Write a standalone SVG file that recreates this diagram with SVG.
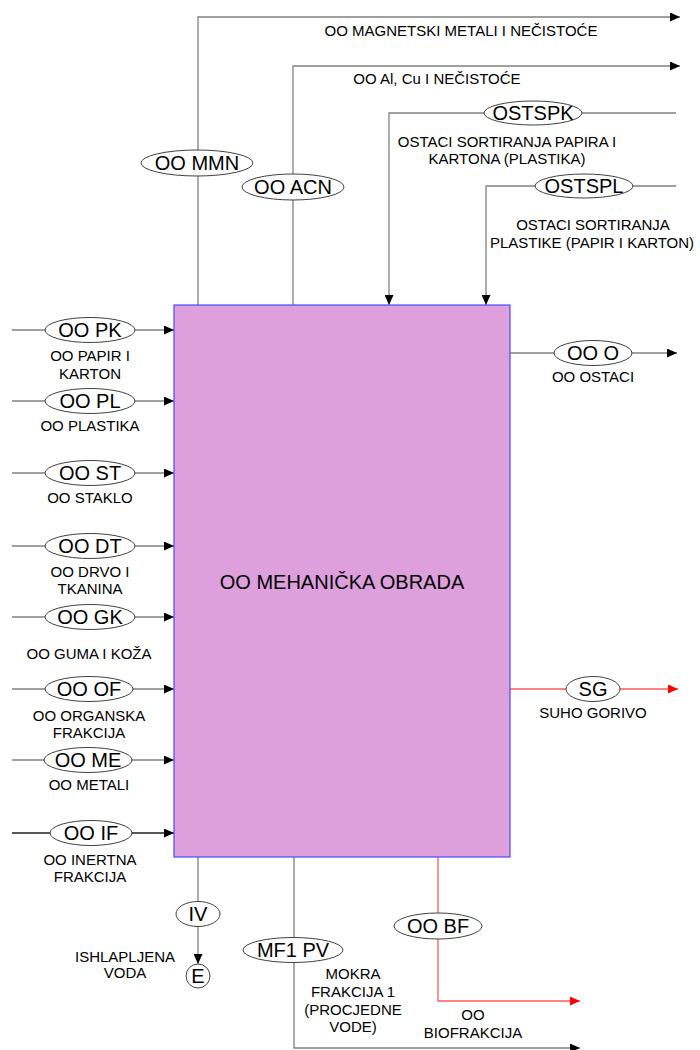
<svg xmlns="http://www.w3.org/2000/svg" width="700" height="1050" viewBox="0 0 700 1050">
<defs>
<marker id="ab" markerUnits="userSpaceOnUse" markerWidth="11" markerHeight="9" refX="10" refY="4.5" orient="auto"><path d="M0,0 L10,4.5 L0,9 z" fill="#000"/></marker>
<marker id="ar" markerUnits="userSpaceOnUse" markerWidth="11" markerHeight="9" refX="10" refY="4.5" orient="auto"><path d="M0,0 L10,4.5 L0,9 z" fill="#ff0000"/></marker>
</defs>
<style>
.c{fill:none;stroke:#808080;stroke-width:1.3}
.k{stroke:#202020}
.r{fill:none;stroke:#ff5a5a;stroke-width:1.3}
.e{fill:#fff;stroke:#404040;stroke-width:1}
.t{font-family:"Liberation Sans",Arial,sans-serif;font-size:20px;fill:#000;text-anchor:middle}
.l{font-family:"Liberation Sans",Arial,sans-serif;font-size:15px;fill:#000;text-anchor:middle}
</style>
<rect width="700" height="1050" fill="#fff"/>
<g id="connectors">
<path class="c" d="M198,305 V17 H680" marker-end="url(#ab)"/>
<path class="c" d="M293,305 V66 H680" marker-end="url(#ab)"/>
<path class="c" d="M676,113 H389 V305" marker-end="url(#ab)"/>
<path class="c" d="M676,186 H486 V305" marker-end="url(#ab)"/>
<path class="c" d="M12,330 H174" marker-end="url(#ab)"/>
<path class="c" d="M12,401 H174" marker-end="url(#ab)"/>
<path class="c" d="M12,473 H174" marker-end="url(#ab)"/>
<path class="c" d="M12,546 H174" marker-end="url(#ab)"/>
<path class="c" d="M12,617 H174" marker-end="url(#ab)"/>
<path class="c" d="M12,689 H174" marker-end="url(#ab)"/>
<path class="c" d="M12,760 H174" marker-end="url(#ab)"/>
<path class="c k" d="M12,833 H174" marker-end="url(#ab)"/>
<path class="c" d="M510,353 H677" marker-end="url(#ab)"/>
<path class="r" d="M510,689 H678" marker-end="url(#ar)"/>
<path class="c" d="M198,857 V964" marker-end="url(#ab)"/>
<path class="c" d="M294,857 V1048 H580" marker-end="url(#ab)"/>
<path class="r" d="M438,857 V1001 H580" marker-end="url(#ar)"/>
</g>
<g id="main">
<rect x="174" y="305" width="336" height="552" fill="#dda0dd" stroke="#4a4aff" stroke-width="1.2"/>
<text class="t" x="342" y="589">OO MEHANIČKA OBRADA</text>
</g>
<g id="n-mmn"><ellipse class="e" cx="197" cy="163" rx="56" ry="13"/><text class="t" x="197" y="170">OO MMN</text></g>
<g id="n-acn"><ellipse class="e" cx="293" cy="187" rx="51" ry="13"/><text class="t" x="293" y="194">OO ACN</text></g>
<g id="n-ostspk"><ellipse class="e" cx="533" cy="113" rx="49" ry="12"/><text class="t" x="533" y="120">OSTSPK</text></g>
<g id="n-ostspl"><ellipse class="e" cx="584" cy="186" rx="49" ry="12"/><text class="t" x="584" y="193">OSTSPL</text></g>
<g id="n-pk"><ellipse class="e" cx="90" cy="330" rx="45" ry="12.5"/><text class="t" x="90" y="337">OO PK</text></g>
<g id="n-pl"><ellipse class="e" cx="90" cy="401" rx="45" ry="12.5"/><text class="t" x="90" y="408">OO PL</text></g>
<g id="n-st"><ellipse class="e" cx="90" cy="473" rx="45" ry="12.5"/><text class="t" x="90" y="480">OO ST</text></g>
<g id="n-dt"><ellipse class="e" cx="90" cy="546" rx="45" ry="12.5"/><text class="t" x="90" y="553">OO DT</text></g>
<g id="n-gk"><ellipse class="e" cx="90" cy="617" rx="45" ry="12.5"/><text class="t" x="90" y="624">OO GK</text></g>
<g id="n-of"><ellipse class="e" cx="89" cy="689" rx="44" ry="12.5"/><text class="t" x="89" y="696">OO OF</text></g>
<g id="n-me"><ellipse class="e" cx="88" cy="760" rx="44" ry="12.5"/><text class="t" x="88" y="767">OO ME</text></g>
<g id="n-if"><ellipse class="e" cx="91" cy="833" rx="41" ry="12.5"/><text class="t" x="91" y="840">OO IF</text></g>
<g id="n-o"><ellipse class="e" cx="593" cy="353" rx="39" ry="12.5"/><text class="t" x="593" y="360">OO O</text></g>
<g id="n-sg"><ellipse class="e" cx="593" cy="689" rx="27" ry="12.5"/><text class="t" x="593" y="696">SG</text></g>
<g id="n-iv"><ellipse class="e" cx="198" cy="914" rx="22" ry="12.5"/><text class="t" x="198" y="921">IV</text></g>
<g id="n-e"><circle class="e" cx="198" cy="976" r="12"/><text class="t" x="198" y="983">E</text></g>
<g id="n-mf1"><ellipse class="e" cx="293" cy="950" rx="50" ry="12.5"/><text class="t" x="293" y="957">MF1 PV</text></g>
<g id="n-bf"><ellipse class="e" cx="438" cy="926" rx="44" ry="13"/><text class="t" x="438" y="933">OO BF</text></g>
<g id="labels">
<text class="l" x="461" y="36">OO MAGNETSKI METALI I NEČISTOĆE</text>
<text class="l" x="437" y="84">OO Al, Cu I NEČISTOĆE</text>
<text class="l" x="507" y="147">OSTACI SORTIRANJA PAPIRA I</text>
<text class="l" x="507" y="164">KARTONA (PLASTIKA)</text>
<text class="l" x="593" y="230">OSTACI SORTIRANJA</text>
<text class="l" x="592" y="248">PLASTIKE (PAPIR I KARTON)</text>
<text class="l" x="90" y="361">OO PAPIR I</text>
<text class="l" x="90" y="379">KARTON</text>
<text class="l" x="90" y="431">OO PLASTIKA</text>
<text class="l" x="90" y="503">OO STAKLO</text>
<text class="l" x="90" y="577">OO DRVO I</text>
<text class="l" x="90" y="594">TKANINA</text>
<text class="l" x="89" y="659">OO GUMA I KOŽA</text>
<text class="l" x="89" y="721">OO ORGANSKA</text>
<text class="l" x="89" y="738">FRAKCIJA</text>
<text class="l" x="89" y="790">OO METALI</text>
<text class="l" x="90" y="865">OO INERTNA</text>
<text class="l" x="90" y="882">FRAKCIJA</text>
<text class="l" x="593" y="382">OO OSTACI</text>
<text class="l" x="593" y="718">SUHO GORIVO</text>
<text class="l" x="125" y="962">ISHLAPLJENA</text>
<text class="l" x="125" y="978">VODA</text>
<text class="l" x="353" y="979">MOKRA</text>
<text class="l" x="353" y="997">FRAKCIJA 1</text>
<text class="l" x="353" y="1015">(PROCJEDNE</text>
<text class="l" x="353" y="1032">VODE)</text>
<text class="l" x="473" y="1020">OO</text>
<text class="l" x="473" y="1038">BIOFRAKCIJA</text>
</g>
</svg>
